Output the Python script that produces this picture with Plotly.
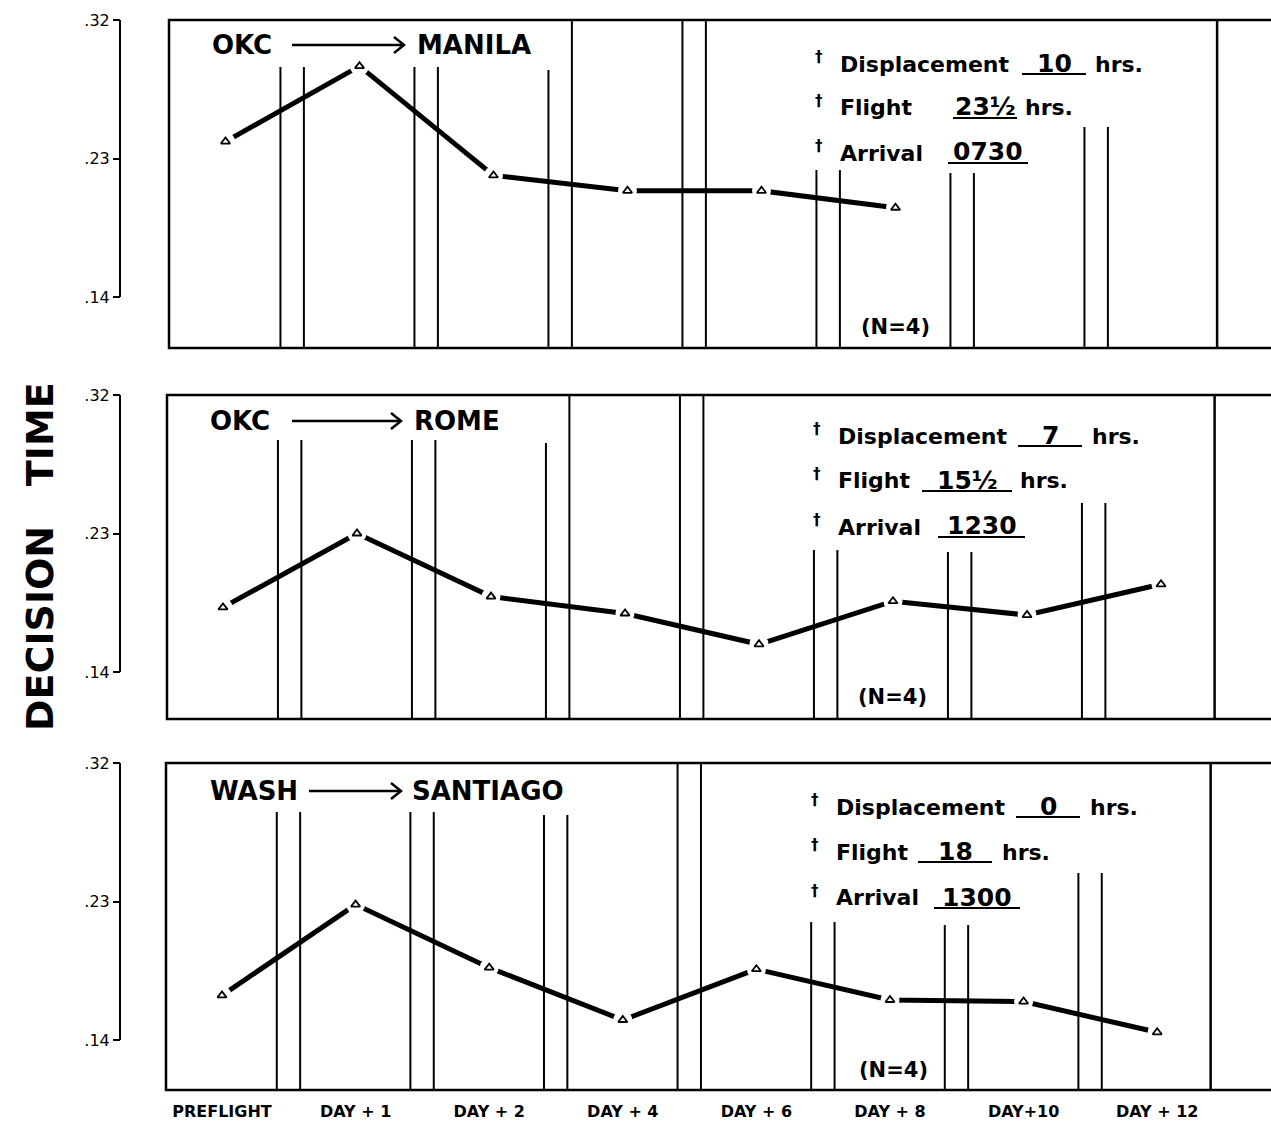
import plotly.graph_objects as go

W, H = 1271, 1130

# ---- data -------------------------------------------------------------
categories = ["PREFLIGHT", "DAY + 1", "DAY + 2", "DAY + 4",
              "DAY + 6", "DAY + 8", "DAY+10", "DAY + 12"]
manila = [0.241, 0.290, 0.219, 0.209, 0.209, 0.198]
rome = [0.182, 0.230, 0.189, 0.178, 0.158, 0.186, 0.177, 0.197]
santiago = [0.169, 0.228, 0.187, 0.153, 0.186, 0.166, 0.165, 0.145]

origins = ["OKC", "OKC", "WASH"]
destinations = ["MANILA", "ROME", "SANTIAGO"]
displacement_hrs = ["10", "7", "0"]
flight_hrs = ["23½", "15½", "18"]
arrival_time = ["0730", "1230", "1300"]
n_subjects = [4, 4, 4]

y_ticks = [0.14, 0.23, 0.32]
y_tick_text = [".14", ".23", ".32"]

series = [manila, rome, santiago]

# ---- page geometry (pixels) ---------------------------------------------
panels = [
    dict(top=20, bot=348, y14=297, left=169, x0=225.5, dx=134.0,
         seps=[67, 67, (70, None), (None, None), 170, 173, 127],
         title_y=45, arrow=(292, 404), dest_x=415, orig_x=210,
         rows=[64, 108, 153], dag_x=819, lab_x=838,
         disp_ul=(1022, 1086), disp_hrs=1093,
         fl_ul=(953, 1017), fl_hrs=1023, arr_ul=(948, 1028),
         n_xy=(895, 327)),
    dict(top=395, bot=719, y14=672, left=167, x0=223.0, dx=134.0,
         seps=[440, 440, (443, None), (None, None), 550, 552, 503],
         title_y=421, arrow=(292, 401), dest_x=412, orig_x=208,
         rows=[436, 481, 527], dag_x=817, lab_x=836,
         disp_ul=(1018, 1082), disp_hrs=1090,
         fl_ul=(922, 1012), fl_hrs=1018, arr_ul=(938, 1025),
         n_xy=(892, 697)),
    dict(top=763, bot=1090, y14=1040, left=166, x0=222.0, dx=133.6,
         seps=[812, 812, 815, (None, None), 922, 925, 873],
         title_y=791, arrow=(309, 401), dest_x=410, orig_x=208,
         rows=[807, 852, 898], dag_x=815, lab_x=834,
         disp_ul=(1016, 1080), disp_hrs=1088,
         fl_ul=(918, 992), fl_hrs=1000, arr_ul=(934, 1020),
         n_xy=(893, 1070)),
]

SEP_LEFT, SEP_RIGHT, SEP_LAST = 0.41, 0.585, 7.40
FONT = "DejaVu Sans"


def fx(px):
    return px / W


def fy(py):
    return 1 - py / H


def text(x, y, s, size, anchor="left", weight="bold", **kw):
    return dict(xref="paper", yref="paper", x=fx(x), y=fy(y), xanchor=anchor,
                yanchor="middle", text=s, showarrow=False,
                font=dict(family=FONT, size=size, color="black", weight=weight),
                **kw)


fig = go.Figure()
shapes = []
annotations = []
layout_axes = {}

for k, (p, vals) in enumerate(zip(panels, series)):
    sfx = "" if k == 0 else str(k + 1)
    xa, ya = "x" + sfx, "y" + sfx
    vpp = 0.18 / (p["y14"] - p["top"])
    ymin = 0.14 - (p["bot"] - p["y14"]) * vpp
    ymax = 0.32 + 1e-6

    def val(py, vpp=vpp, top=p["top"]):
        return 0.32 - (py - top) * vpp

    xs = list(range(len(vals)))
    # thick connecting line
    fig.add_trace(go.Scatter(x=xs, y=vals, mode="lines", xaxis=xa, yaxis=ya,
                             line=dict(color="black", width=5),
                             hoverinfo="skip", showlegend=False))
    # white halo so the line stops short of each marker
    fig.add_trace(go.Scatter(x=xs, y=vals, mode="markers", xaxis=xa, yaxis=ya,
                             marker=dict(symbol="circle", size=19, color="white"),
                             hoverinfo="skip", showlegend=False))
    fig.add_trace(go.Scatter(x=xs, y=vals, mode="markers", xaxis=xa, yaxis=ya,
                             marker=dict(symbol="triangle-up-open", size=8,
                                         color="black",
                                         line=dict(color="black", width=1.8)),
                             showlegend=False))

    layout_axes["xaxis" + sfx] = dict(
        domain=[fx(p["left"]), 1.0],
        range=[(p["left"] - p["x0"]) / p["dx"], (W - p["x0"]) / p["dx"]],
        anchor=ya, showgrid=False, zeroline=False, showline=False,
        automargin=False,
        tickmode="array", tickvals=list(range(len(categories))),
        ticktext=categories, ticks="",
        showticklabels=(k == 2), ticklabelstandoff=10,
        tickfont=dict(family=FONT, size=16, color="black", weight="bold"),
    )
    layout_axes["yaxis" + sfx] = dict(
        domain=[fy(p["bot"]), fy(p["top"])], range=[ymin, ymax],
        anchor="free", position=fx(120), showgrid=False, zeroline=False,
        showline=False, automargin=False, tickmode="array", tickvals=y_ticks,
        ticktext=y_tick_text, ticks="outside", ticklen=7, tickwidth=2,
        tickcolor="black",
        tickfont=dict(family=FONT, size=16, color="black"),
    )

    # axis spine from .14 to .32
    shapes.append(dict(type="line", xref="paper", yref="paper",
                       x0=fx(120), x1=fx(120), y0=fy(p["y14"]), y1=fy(p["top"]),
                       line=dict(color="black", width=2)))
    # panel frame (runs off the right edge of the page)
    shapes.append(dict(type="rect", xref=xa + " domain", yref=ya + " domain",
                       x0=0, x1=1.02, y0=0, y1=1,
                       line=dict(color="black", width=2.5)))
    # paired day separators
    for i, top in enumerate(p["seps"]):
        tops = top if isinstance(top, tuple) else (top, top)
        for off, t in zip((SEP_LEFT, SEP_RIGHT), tops):
            y1 = ymax if t is None else val(t)
            shapes.append(dict(type="line", xref=xa, yref=ya, layer="below",
                               x0=i + off, x1=i + off, y0=ymin, y1=y1,
                               line=dict(color="black", width=2)))
    shapes.append(dict(type="line", xref=xa, yref=ya, layer="below",
                       x0=SEP_LAST, x1=SEP_LAST, y0=ymin, y1=ymax,
                       line=dict(color="black", width=2.5)))

    # route title with arrow
    ty = p["title_y"]
    annotations.append(text(p["orig_x"], ty, origins[k], 26))
    annotations.append(text(p["dest_x"], ty, destinations[k], 26))
    a0, a1 = p["arrow"]
    shapes.append(dict(type="line", xref="paper", yref="paper",
                       x0=fx(a0), x1=fx(a1), y0=fy(ty), y1=fy(ty),
                       line=dict(color="black", width=2.5)))
    shapes.append(dict(type="path", xref="paper", yref="paper",
                       path=f"M {fx(a1 - 10)} {fy(ty - 8)} L {fx(a1)} {fy(ty)} "
                            f"L {fx(a1 - 10)} {fy(ty + 8)}",
                       line=dict(color="black", width=2.5)))

    # flight details: dagger, label, underlined value, unit
    r_disp, r_fl, r_arr = p["rows"]
    entries = [
        ("Displacement", r_disp, displacement_hrs[k], p["disp_ul"], p["disp_hrs"]),
        ("Flight", r_fl, flight_hrs[k], p["fl_ul"], p["fl_hrs"]),
        ("Arrival", r_arr, arrival_time[k], p["arr_ul"], None),
    ]
    for label, ry, value, (u0, u1), hrs_x in entries:
        annotations.append(text(p["dag_x"], ry - 7, "†", 15, anchor="center"))
        annotations.append(text(p["lab_x"], ry, label, 22))
        annotations.append(text((u0 + u1) / 2, ry - 1, value, 25, anchor="center"))
        shapes.append(dict(type="line", xref="paper", yref="paper",
                           x0=fx(u0), x1=fx(u1), y0=fy(ry + 10), y1=fy(ry + 10),
                           line=dict(color="black", width=2)))
        if hrs_x is not None:
            annotations.append(text(hrs_x, ry, "hrs.", 22))

    nx, ny = p["n_xy"]
    annotations.append(text(nx, ny, f"(N={n_subjects[k]})", 21, anchor="center"))

# shared vertical title
annotations.append(text(40, 557, "DECISION&nbsp;&nbsp;&nbsp;TIME", 38,
                        anchor="center", textangle=-90))

fig.update_layout(
    width=W, height=H, margin=dict(l=0, r=0, t=0, b=0, autoexpand=False),
    paper_bgcolor="white", plot_bgcolor="rgba(0,0,0,0)",
    showlegend=False, shapes=shapes, annotations=annotations,
    **layout_axes,
)

fig.write_html("out.html")
